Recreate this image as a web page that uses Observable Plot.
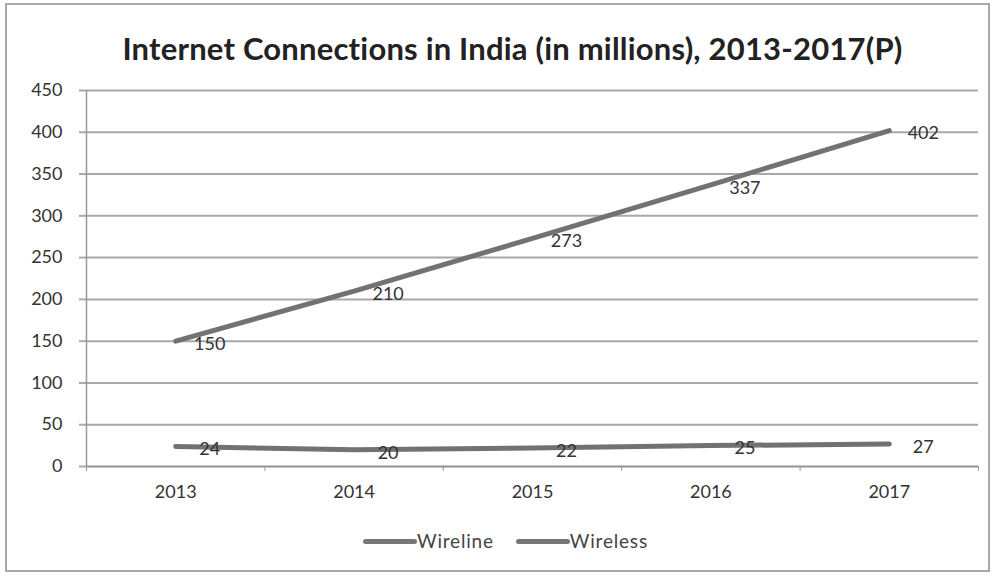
<!DOCTYPE html>
<html>
<head>
<meta charset="utf-8">
<script src="https://cdn.jsdelivr.net/npm/d3@7"></script>
<script src="https://cdn.jsdelivr.net/npm/@observablehq/plot@0.6"></script>
<style>
  body { margin: 0; background: #fff; font-family: Lato, "Open Sans", sans-serif; }
  #frame { position: absolute; left: 5px; top: 3px; width: 985px; height: 569px; box-sizing: border-box; border: 2px solid #a8a8a8; }
  #title { position: absolute; left: 20px; width: 985px; top: 29px; text-align: center; font-size: 31px; font-weight: bold; color: #222; line-height: 38px; letter-spacing: 0.2px; }
  #chart { position: absolute; left: 0; top: 75px; }
  #legend { position: absolute; top: 529px; left: 363px; display: flex; align-items: center; font-size: 19px; color: #444; line-height: 24px; letter-spacing: 0.8px; }
  .sw { display: inline-block; width: 54px; height: 5px; border-radius: 3px; background: #777; }
  .item { display: flex; align-items: center; margin-right: 22px; }
</style>
</head>
<body>
<div id="frame"></div>
<div id="title">Internet Connections in India (in millions), 2013-2017(P)</div>
<div id="chart"></div>
<div id="legend"></div>
<script>
const years = [2013, 2014, 2015, 2016, 2017];
const wireline = [150, 210, 273, 337, 402];
const wireless = [24, 20, 22, 25, 27];
const seriesNames = ["Wireline", "Wireless"];
const yTicks = [0, 50, 100, 150, 200, 250, 300, 350, 400, 450];

const data = [
  ...years.map((y, i) => ({year: y, value: wireline[i], series: seriesNames[0]})),
  ...years.map((y, i) => ({year: y, value: wireless[i], series: seriesNames[1]}))
];
const bounds = [years[0] - 0.5, ...years.map(y => y + 0.5)];

const chart = Plot.plot({
  width: 1002,
  height: 440,
  marginLeft: 86,
  marginRight: 24,
  marginTop: 15,
  marginBottom: 49,
  style: {fontFamily: "Lato, 'Open Sans', sans-serif", fontSize: "18px", color: "#333", background: "transparent"},
  x: {domain: [years[0] - 0.5, years[years.length - 1] + 0.5]},
  y: {domain: [0, 450]},
  marks: [
    Plot.gridY(yTicks, {stroke: "#a8a8a8", strokeOpacity: 1, strokeWidth: 2}),
    Plot.axisY({ticks: yTicks, tickSize: 7, tickPadding: 17, stroke: "#a8a8a8", strokeWidth: 2, label: null, fontSize: 18}),
    Plot.ruleX([years[0] - 0.5], {stroke: "#999", strokeWidth: 1.5}),
    Plot.ruleY([0], {stroke: "#999", strokeWidth: 1.5}),
    Plot.axisX({ticks: years, tickFormat: d => String(d), tickSize: 0, tickPadding: 19, label: null, fontSize: 18}),
    Plot.axisX({ticks: bounds, tickFormat: () => "", tickSize: 5, stroke: "#999", label: null}),
    Plot.line(data, {x: "year", y: "value", z: "series", stroke: "#727272", strokeWidth: 5, strokeLinecap: "round"}),
    Plot.text(data, {x: "year", y: "value", text: d => String(d.value), dx: 34, dy: 3, fontSize: 18, fill: "#333"})
  ]
});
document.getElementById("chart").appendChild(chart);

const legend = document.getElementById("legend");
seriesNames.forEach(name => {
  const it = document.createElement("div");
  it.className = "item";
  const sw = document.createElement("span");
  sw.className = "sw";
  const t = document.createElement("span");
  t.textContent = name;
  it.appendChild(sw);
  it.appendChild(t);
  legend.appendChild(it);
});
</script>
</body>
</html>
